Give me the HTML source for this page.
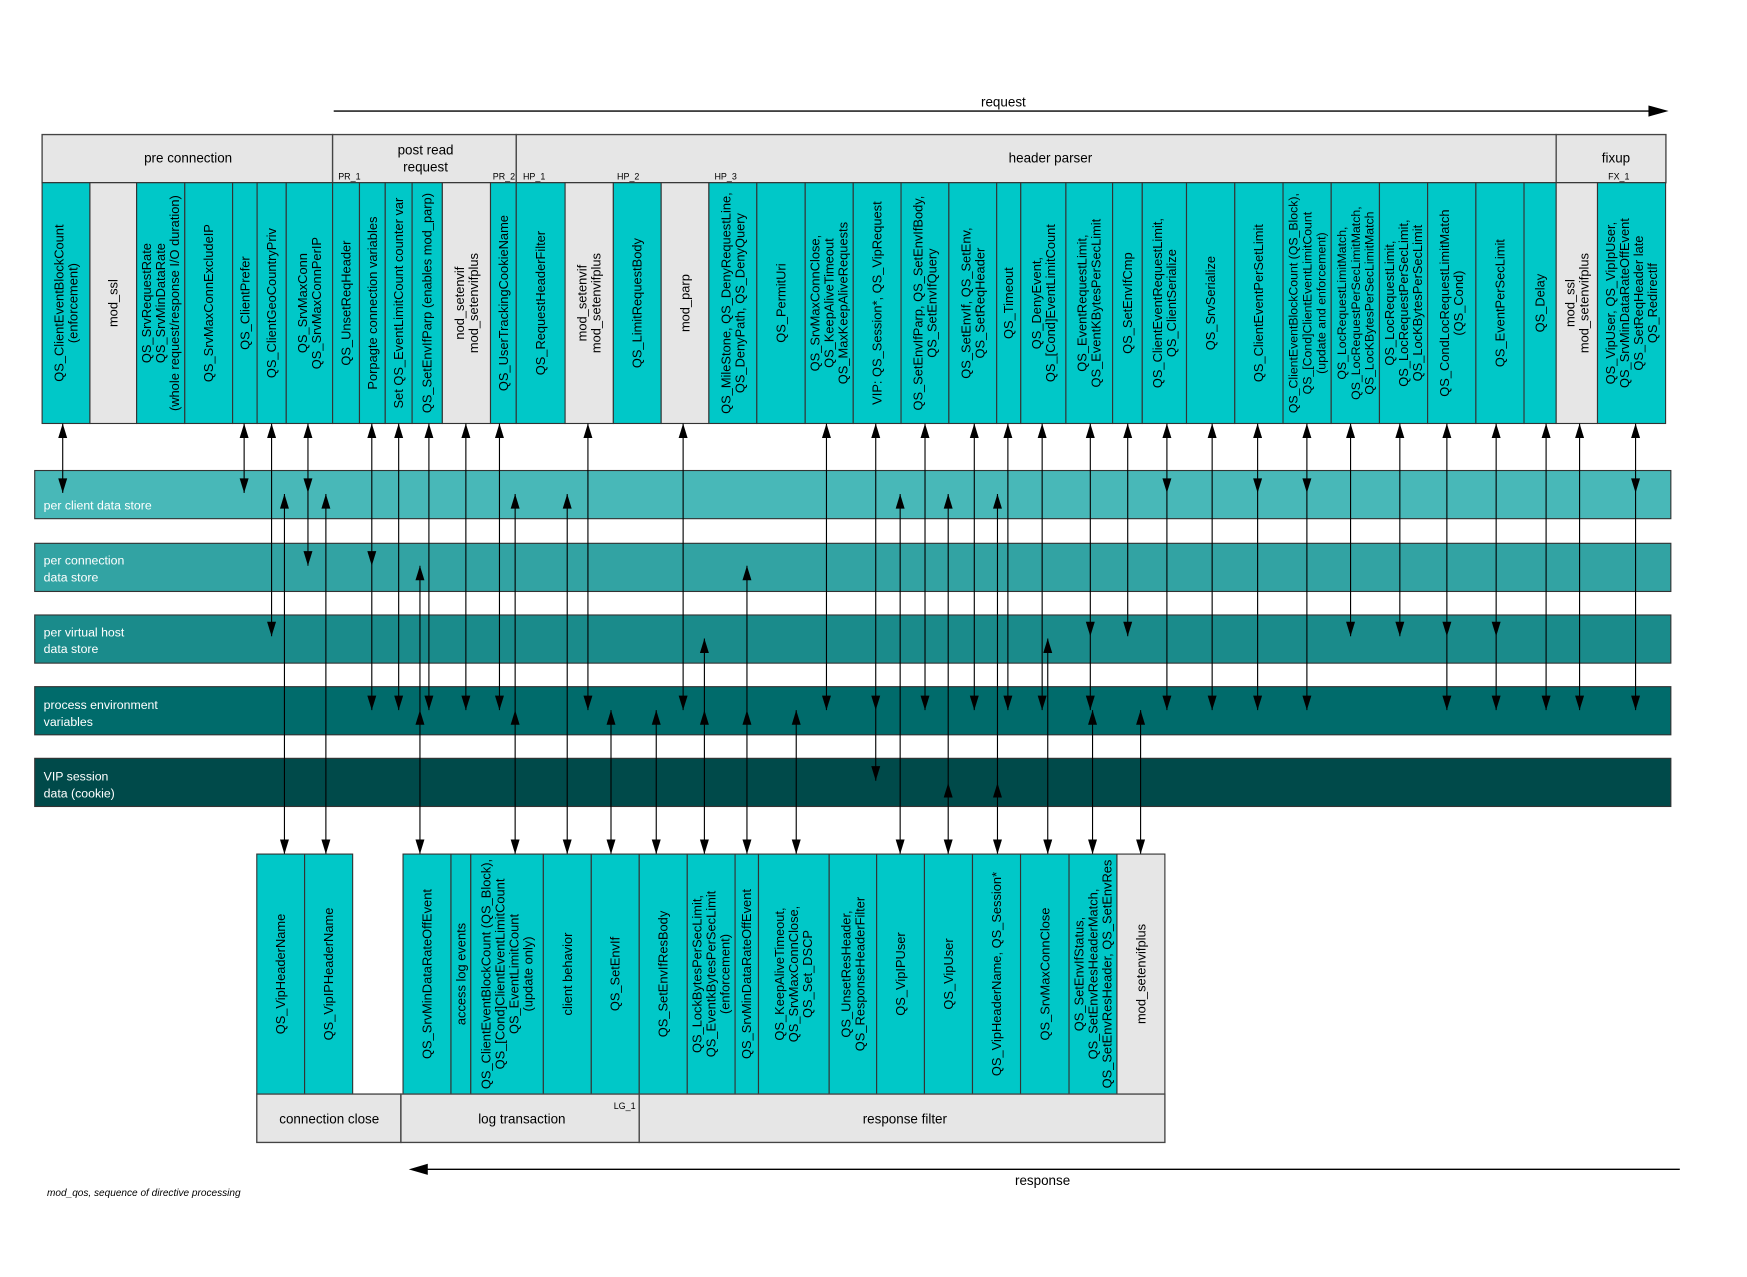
<!DOCTYPE html>
<html><head><meta charset="utf-8"><style>
html,body{margin:0;padding:0;background:#fff;}
svg{display:block;}
text{font-family:"Liberation Sans",sans-serif;}
.c{font-size:11.5px;fill:#000;}
.h{font-size:12px;fill:#000;}
.s{font-size:8px;fill:#000;}
.b{font-size:11px;fill:#fff;}
</style></head><body>
<svg width="1747" height="1277" viewBox="0 0 1560 1140" xmlns="http://www.w3.org/2000/svg">
<defs>
<path id="dn" d="M-4,-13 L4,-13 L0,0Z" fill="#000"/>
<path id="up" d="M-4,13 L4,13 L0,0Z" fill="#000"/>
</defs>
<rect width="1560" height="1140" fill="#fff"/>

<!-- request arrow -->
<line x1="298" y1="99" x2="1475" y2="99" stroke="#000" stroke-width="1.2"/>
<path d="M1472,94 L1490,99 L1472,104Z" fill="#000"/>
<text class="h" x="896" y="95" text-anchor="middle">request</text>

<!-- header boxes -->
<g stroke="#444" stroke-width="1.2" fill="#e6e6e6">
<rect x="37.6" y="120" width="259.4" height="43"/>
<rect x="297" y="120" width="164" height="43"/>
<rect x="461" y="120" width="928.6" height="43"/>
<rect x="1389.6" y="120" width="98" height="43"/>
</g>
<text class="h" x="168" y="145" text-anchor="middle">pre connection</text>
<text class="h" x="380" y="138" text-anchor="middle">post read</text>
<text class="h" x="380" y="153" text-anchor="middle">request</text>
<text class="h" x="938" y="145" text-anchor="middle">header parser</text>
<text class="h" x="1443" y="145" text-anchor="middle">fixup</text>
<text class="s" x="302" y="160">PR_1</text>
<text class="s" x="440" y="160">PR_2</text>
<text class="s" x="467" y="160">HP_1</text>
<text class="s" x="551" y="160">HP_2</text>
<text class="s" x="638" y="160">HP_3</text>
<text class="s" x="1436" y="160">FX_1</text>

<!-- top columns -->
<g stroke="#333" stroke-width="1">
<rect x="37.6" y="163" width="42.7" height="215" fill="#00c8c8"/>
<rect x="80.3" y="163" width="41.7" height="215" fill="#e6e6e6"/>
<rect x="122" y="163" width="43" height="215" fill="#00c8c8"/>
<rect x="165" y="163" width="42.7" height="215" fill="#00c8c8"/>
<rect x="207.7" y="163" width="21.9" height="215" fill="#00c8c8"/>
<rect x="229.6" y="163" width="26" height="215" fill="#00c8c8"/>
<rect x="255.6" y="163" width="41.4" height="215" fill="#00c8c8"/>
<rect x="297" y="163" width="24" height="215" fill="#00c8c8"/>
<rect x="321" y="163" width="23" height="215" fill="#00c8c8"/>
<rect x="344" y="163" width="24" height="215" fill="#00c8c8"/>
<rect x="368" y="163" width="27" height="215" fill="#00c8c8"/>
<rect x="395" y="163" width="43" height="215" fill="#e6e6e6"/>
<rect x="438" y="163" width="23" height="215" fill="#00c8c8"/>
<rect x="461" y="163" width="43.6" height="215" fill="#00c8c8"/>
<rect x="504.6" y="163" width="43.1" height="215" fill="#e6e6e6"/>
<rect x="547.7" y="163" width="42.7" height="215" fill="#00c8c8"/>
<rect x="590.4" y="163" width="42.6" height="215" fill="#e6e6e6"/>
<rect x="633" y="163" width="42.8" height="215" fill="#00c8c8"/>
<rect x="675.8" y="163" width="43.2" height="215" fill="#00c8c8"/>
<rect x="719" y="163" width="42.9" height="215" fill="#00c8c8"/>
<rect x="761.9" y="163" width="42.7" height="215" fill="#00c8c8"/>
<rect x="804.6" y="163" width="42.7" height="215" fill="#00c8c8"/>
<rect x="847.3" y="163" width="42.7" height="215" fill="#00c8c8"/>
<rect x="890" y="163" width="21.5" height="215" fill="#00c8c8"/>
<rect x="911.5" y="163" width="40.3" height="215" fill="#00c8c8"/>
<rect x="951.8" y="163" width="41.7" height="215" fill="#00c8c8"/>
<rect x="993.5" y="163" width="26.5" height="215" fill="#00c8c8"/>
<rect x="1020" y="163" width="39.5" height="215" fill="#00c8c8"/>
<rect x="1059.5" y="163" width="43.1" height="215" fill="#00c8c8"/>
<rect x="1102.6" y="163" width="43.1" height="215" fill="#00c8c8"/>
<rect x="1145.7" y="163" width="43" height="215" fill="#00c8c8"/>
<rect x="1188.7" y="163" width="43.1" height="215" fill="#00c8c8"/>
<rect x="1231.8" y="163" width="43" height="215" fill="#00c8c8"/>
<rect x="1274.8" y="163" width="43.1" height="215" fill="#00c8c8"/>
<rect x="1317.9" y="163" width="43" height="215" fill="#00c8c8"/>
<rect x="1360.9" y="163" width="28.7" height="215" fill="#00c8c8"/>
<rect x="1389.6" y="163" width="36.9" height="215" fill="#e6e6e6"/>
<rect x="1426.5" y="163" width="60.8" height="215" fill="#00c8c8"/>
</g>

<g class="c" text-anchor="middle" font-size="11.5">
<text transform="translate(59,270.5) rotate(-90)"><tspan x="0" y="-2.2">QS_ClientEventBlockCount</tspan><tspan x="0" y="10.3">(enforcement)</tspan></text>
<text transform="translate(101,270.5) rotate(-90)"><tspan x="0" y="4">mod_ssl</tspan></text>
<text transform="translate(143.5,270.5) rotate(-90)"><tspan x="0" y="-8.5">QS_SrvRequestRate</tspan><tspan x="0" y="4">QS_SrvMinDataRate</tspan><tspan x="0" y="16.5">(whole request/response I/O duration)</tspan></text>
<text transform="translate(186.4,270.5) rotate(-90)"><tspan x="0" y="4">QS_SrvMaxConnExcludeIP</tspan></text>
<text transform="translate(218.6,270.5) rotate(-90)"><tspan x="0" y="4">QS_ClientPrefer</tspan></text>
<text transform="translate(242.6,270.5) rotate(-90)"><tspan x="0" y="4">QS_ClientGeoCountryPriv</tspan></text>
<text transform="translate(276.3,270.5) rotate(-90)"><tspan x="0" y="-2.2">QS_SrvMaxConn</tspan><tspan x="0" y="10.3">QS_SrvMaxConnPerIP</tspan></text>
<text transform="translate(309,270.5) rotate(-90)"><tspan x="0" y="4">QS_UnsetReqHeader</tspan></text>
<text transform="translate(332.5,270.5) rotate(-90)"><tspan x="0" y="4">Porpagte connection variables</tspan></text>
<text transform="translate(356,270.5) rotate(-90)"><tspan x="0" y="4">Set QS_EventLimitCount counter var</tspan></text>
<text transform="translate(381.5,270.5) rotate(-90)"><tspan x="0" y="4">QS_SetEnvIfParp (enables mod_parp)</tspan></text>
<text transform="translate(416.5,270.5) rotate(-90)"><tspan x="0" y="-2.2">nod_setenvif</tspan><tspan x="0" y="10.3">mod_setenvifplus</tspan></text>
<text transform="translate(449.5,270.5) rotate(-90)"><tspan x="0" y="4">QS_UserTrackingCookieName</tspan></text>
<text transform="translate(482.8,270.5) rotate(-90)"><tspan x="0" y="4">QS_RequestHeaderFilter</tspan></text>
<text transform="translate(526,270.5) rotate(-90)"><tspan x="0" y="-2.2">mod_setenvif</tspan><tspan x="0" y="10.3">mod_setenvifplus</tspan></text>
<text transform="translate(569,270.5) rotate(-90)"><tspan x="0" y="4">QS_LimitRequestBody</tspan></text>
<text transform="translate(611.7,270.5) rotate(-90)"><tspan x="0" y="4">mod_parp</tspan></text>
<text transform="translate(654.4,270.5) rotate(-90)"><tspan x="0" y="-2.2">QS_MileStone, QS_DenyRequestLine,</tspan><tspan x="0" y="10.3">QS_DenyPath, QS_DenyQuery</tspan></text>
<text transform="translate(697.4,270.5) rotate(-90)"><tspan x="0" y="4">QS_PermitUri</tspan></text>
<text transform="translate(740.4,270.5) rotate(-90)"><tspan x="0" y="-8.5">QS_SrvMaxConnClose,</tspan><tspan x="0" y="4">QS_KeepAliveTimeout</tspan><tspan x="0" y="16.5">QS_MaxKeepAliveRequests</tspan></text>
<text transform="translate(783.2,270.5) rotate(-90)"><tspan x="0" y="4">VIP: QS_Session*, QS_VipRequest</tspan></text>
<text transform="translate(826,270.5) rotate(-90)"><tspan x="0" y="-2.2">QS_SetEnvIfParp, QS_SetEnvIfBody,</tspan><tspan x="0" y="10.3">QS_SetEnvIfQuery</tspan></text>
<text transform="translate(868.6,270.5) rotate(-90)"><tspan x="0" y="-2.2">QS_SetEnvIf, QS_SetEnv,</tspan><tspan x="0" y="10.3">QS_SetReqHeader</tspan></text>
<text transform="translate(900.7,270.5) rotate(-90)"><tspan x="0" y="4">QS_Timeout</tspan></text>
<text transform="translate(931.6,270.5) rotate(-90)"><tspan x="0" y="-2.2">QS_DenyEvent,</tspan><tspan x="0" y="10.3">QS_[Cond]EventLimitCount</tspan></text>
<text transform="translate(972.6,270.5) rotate(-90)"><tspan x="0" y="-2.2">QS_EventRequestLimit,</tspan><tspan x="0" y="10.3">QS_EventKBytesPerSecLimit</tspan></text>
<text transform="translate(1006.7,270.5) rotate(-90)"><tspan x="0" y="4">QS_SetEnvIfCmp</tspan></text>
<text transform="translate(1039.7,270.5) rotate(-90)"><tspan x="0" y="-2.2">QS_ClientEventRequestLimit,</tspan><tspan x="0" y="10.3">QS_ClientSerialize</tspan></text>
<text transform="translate(1081,270.5) rotate(-90)"><tspan x="0" y="4">QS_SrvSerialize</tspan></text>
<text transform="translate(1124,270.5) rotate(-90)"><tspan x="0" y="4">QS_ClientEventPerSetLimit</tspan></text>
<text transform="translate(1167.2,270.5) rotate(-90)" font-size="11"><tspan x="0" y="-8.5">QS_ClientEventBlockCount (QS_Block),</tspan><tspan x="0" y="4">QS_[Cond]ClientEventLimitCount</tspan><tspan x="0" y="16.5">(update and enforcement)</tspan></text>
<text transform="translate(1210.2,270.5) rotate(-90)" font-size="11"><tspan x="0" y="-8.5">QS_LocRequestLimitMatch,</tspan><tspan x="0" y="4">QS_LocRequestPerSecLimitMatch,</tspan><tspan x="0" y="16.5">QS_LocKBytesPerSecLimitMatch</tspan></text>
<text transform="translate(1253.3,270.5) rotate(-90)"><tspan x="0" y="-8.5">QS_LocRequestLimit,</tspan><tspan x="0" y="4">QS_LocRequestPerSecLimit,</tspan><tspan x="0" y="16.5">QS_LocKBytesPerSecLimit</tspan></text>
<text transform="translate(1296.3,270.5) rotate(-90)"><tspan x="0" y="-2.2">QS_CondLocRequestLimitMatch</tspan><tspan x="0" y="10.3">(QS_Cond)</tspan></text>
<text transform="translate(1339.4,270.5) rotate(-90)"><tspan x="0" y="4">QS_EventPerSecLimit</tspan></text>
<text transform="translate(1375.2,270.5) rotate(-90)"><tspan x="0" y="4">QS_Delay</tspan></text>
<text transform="translate(1408,270.5) rotate(-90)"><tspan x="0" y="-2.2">mod_ssl</tspan><tspan x="0" y="10.3">mod_setenvifplus</tspan></text>
<text transform="translate(1457,270.5) rotate(-90)"><tspan x="0" y="-14.7">QS_VipUser, QS_VipIpUser,</tspan><tspan x="0" y="-2.2">QS_SrvMinDataRateOffEvent</tspan><tspan x="0" y="10.3">QS_SetReqHeader late</tspan><tspan x="0" y="22.8">QS_Redirectlf</tspan></text>
</g>

<!-- bands -->
<g stroke="#333" stroke-width="1">
<rect x="31" y="420" width="1461" height="43" fill="#48b8b8"/>
<rect x="31" y="485" width="1461" height="43" fill="#32a3a3"/>
<rect x="31" y="549" width="1461" height="43" fill="#1a8b8b"/>
<rect x="31" y="613" width="1461" height="43" fill="#006b6b"/>
<rect x="31" y="677" width="1461" height="43" fill="#004a4a"/>
</g>
<text class="b" x="39" y="455">per client data store</text>
<text class="b" x="39" y="504">per connection</text>
<text class="b" x="39" y="519">data store</text>
<text class="b" x="39" y="568">per virtual host</text>
<text class="b" x="39" y="583">data store</text>
<text class="b" x="39" y="633">process environment</text>
<text class="b" x="39" y="648">variables</text>
<text class="b" x="39" y="697">VIP session</text>
<text class="b" x="39" y="712">data (cookie)</text>

<!-- top arrows -->
<g stroke="#000" stroke-width="1">
<line x1="56" y1="378" x2="56" y2="440"/>
<line x1="218" y1="378" x2="218" y2="440"/>
<line x1="242.5" y1="378" x2="242.5" y2="568"/>
<line x1="275" y1="378" x2="275" y2="505"/>
<line x1="332" y1="378" x2="332" y2="634"/>
<line x1="356" y1="378" x2="356" y2="634"/>
<line x1="383" y1="378" x2="383" y2="634"/>
<line x1="416" y1="378" x2="416" y2="634"/>
<line x1="446" y1="378" x2="446" y2="634"/>
<line x1="525" y1="378" x2="525" y2="634"/>
<line x1="610" y1="378" x2="610" y2="634"/>
<line x1="738" y1="378" x2="738" y2="634"/>
<line x1="782" y1="378" x2="782" y2="697"/>
<line x1="826" y1="378" x2="826" y2="634"/>
<line x1="870" y1="378" x2="870" y2="634"/>
<line x1="900" y1="378" x2="900" y2="634"/>
<line x1="930.6" y1="378" x2="930.6" y2="634"/>
<line x1="973.6" y1="378" x2="973.6" y2="634"/>
<line x1="1007" y1="378" x2="1007" y2="568"/>
<line x1="1042" y1="378" x2="1042" y2="634"/>
<line x1="1082.4" y1="378" x2="1082.4" y2="634"/>
<line x1="1123" y1="378" x2="1123" y2="634"/>
<line x1="1167" y1="378" x2="1167" y2="634"/>
<line x1="1206" y1="378" x2="1206" y2="568"/>
<line x1="1250" y1="378" x2="1250" y2="568"/>
<line x1="1292" y1="378" x2="1292" y2="634"/>
<line x1="1336" y1="378" x2="1336" y2="634"/>
<line x1="1380.6" y1="378" x2="1380.6" y2="634"/>
<line x1="1410.5" y1="378" x2="1410.5" y2="634"/>
<line x1="1460.5" y1="378" x2="1460.5" y2="634"/>
</g>
<g>
<use href="#up" x="56" y="378"/><use href="#dn" x="56" y="440"/>
<use href="#up" x="218" y="378"/><use href="#dn" x="218" y="440"/>
<use href="#up" x="242.5" y="378"/><use href="#dn" x="242.5" y="568"/>
<use href="#up" x="275" y="378"/><use href="#dn" x="275" y="440"/><use href="#dn" x="275" y="505"/>
<use href="#up" x="332" y="378"/><use href="#dn" x="332" y="505"/><use href="#dn" x="332" y="634"/>
<use href="#up" x="356" y="378"/><use href="#dn" x="356" y="634"/>
<use href="#up" x="383" y="378"/><use href="#dn" x="383" y="634"/>
<use href="#up" x="416" y="378"/><use href="#dn" x="416" y="634"/>
<use href="#up" x="446" y="378"/><use href="#dn" x="446" y="634"/>
<use href="#up" x="525" y="378"/><use href="#dn" x="525" y="634"/>
<use href="#up" x="610" y="378"/><use href="#dn" x="610" y="634"/>
<use href="#up" x="738" y="378"/><use href="#dn" x="738" y="634"/>
<use href="#up" x="782" y="378"/><use href="#dn" x="782" y="634"/><use href="#dn" x="782" y="697"/>
<use href="#up" x="826" y="378"/><use href="#dn" x="826" y="634"/>
<use href="#up" x="870" y="378"/><use href="#dn" x="870" y="634"/>
<use href="#up" x="900" y="378"/><use href="#dn" x="900" y="634"/>
<use href="#up" x="930.6" y="378"/><use href="#dn" x="930.6" y="634"/>
<use href="#up" x="973.6" y="378"/><use href="#dn" x="973.6" y="568"/><use href="#dn" x="973.6" y="634"/>
<use href="#up" x="1007" y="378"/><use href="#dn" x="1007" y="568"/>
<use href="#up" x="1042" y="378"/><use href="#dn" x="1042" y="440"/><use href="#dn" x="1042" y="634"/>
<use href="#up" x="1082.4" y="378"/><use href="#dn" x="1082.4" y="634"/>
<use href="#up" x="1123" y="378"/><use href="#dn" x="1123" y="440"/><use href="#dn" x="1123" y="634"/>
<use href="#up" x="1167" y="378"/><use href="#dn" x="1167" y="440"/><use href="#dn" x="1167" y="634"/>
<use href="#up" x="1206" y="378"/><use href="#dn" x="1206" y="568"/>
<use href="#up" x="1250" y="378"/><use href="#dn" x="1250" y="568"/>
<use href="#up" x="1292" y="378"/><use href="#dn" x="1292" y="568"/><use href="#dn" x="1292" y="634"/>
<use href="#up" x="1336" y="378"/><use href="#dn" x="1336" y="568"/><use href="#dn" x="1336" y="634"/>
<use href="#up" x="1380.6" y="378"/><use href="#dn" x="1380.6" y="634"/>
<use href="#up" x="1410.5" y="378"/><use href="#dn" x="1410.5" y="634"/>
<use href="#up" x="1460.5" y="378"/><use href="#dn" x="1460.5" y="440"/><use href="#dn" x="1460.5" y="634"/>
</g>

<!-- bottom arrows -->
<g stroke="#000" stroke-width="1">
<line x1="254" y1="441" x2="254" y2="762.5"/>
<line x1="291" y1="441" x2="291" y2="762.5"/>
<line x1="375" y1="505" x2="375" y2="762.5"/>
<line x1="460" y1="441" x2="460" y2="762.5"/>
<line x1="506.5" y1="441" x2="506.5" y2="762.5"/>
<line x1="545.6" y1="634" x2="545.6" y2="762.5"/>
<line x1="586" y1="634" x2="586" y2="762.5"/>
<line x1="629" y1="570" x2="629" y2="762.5"/>
<line x1="667" y1="505" x2="667" y2="762.5"/>
<line x1="711" y1="634" x2="711" y2="762.5"/>
<line x1="803.8" y1="441" x2="803.8" y2="762.5"/>
<line x1="846.7" y1="441" x2="846.7" y2="762.5"/>
<line x1="890.7" y1="441" x2="890.7" y2="762.5"/>
<line x1="935.6" y1="570" x2="935.6" y2="762.5"/>
<line x1="975.6" y1="634" x2="975.6" y2="762.5"/>
<line x1="1018.5" y1="634" x2="1018.5" y2="762.5"/>
</g>
<g>
<use href="#dn" x="254" y="762.5"/><use href="#up" x="254" y="441"/>
<use href="#dn" x="291" y="762.5"/><use href="#up" x="291" y="441"/>
<use href="#dn" x="375" y="762.5"/><use href="#up" x="375" y="505"/><use href="#up" x="375" y="634"/>
<use href="#dn" x="460" y="762.5"/><use href="#up" x="460" y="441"/><use href="#up" x="460" y="634"/>
<use href="#dn" x="506.5" y="762.5"/><use href="#up" x="506.5" y="441"/>
<use href="#dn" x="545.6" y="762.5"/><use href="#up" x="545.6" y="634"/>
<use href="#dn" x="586" y="762.5"/><use href="#up" x="586" y="634"/>
<use href="#dn" x="629" y="762.5"/><use href="#up" x="629" y="570"/><use href="#up" x="629" y="634"/>
<use href="#dn" x="667" y="762.5"/><use href="#up" x="667" y="505"/><use href="#up" x="667" y="634"/>
<use href="#dn" x="711" y="762.5"/><use href="#up" x="711" y="634"/>
<use href="#dn" x="803.8" y="762.5"/><use href="#up" x="803.8" y="441"/>
<use href="#dn" x="846.7" y="762.5"/><use href="#up" x="846.7" y="441"/><use href="#up" x="846.7" y="699"/>
<use href="#dn" x="890.7" y="762.5"/><use href="#up" x="890.7" y="441"/><use href="#up" x="890.7" y="699"/>
<use href="#dn" x="935.6" y="762.5"/><use href="#up" x="935.6" y="570"/>
<use href="#dn" x="975.6" y="762.5"/><use href="#up" x="975.6" y="634"/>
<use href="#dn" x="1018.5" y="762.5"/><use href="#up" x="1018.5" y="634"/>
</g>

<!-- bottom columns -->
<g stroke="#333" stroke-width="1">
<rect x="229.3" y="762.5" width="42.7" height="214.3" fill="#00c8c8"/>
<rect x="272" y="762.5" width="42.9" height="214.3" fill="#00c8c8"/>
<rect x="359.9" y="762.5" width="42.8" height="214.3" fill="#00c8c8"/>
<rect x="402.7" y="762.5" width="17.7" height="214.3" fill="#00c8c8"/>
<rect x="420.4" y="762.5" width="64.8" height="214.3" fill="#00c8c8"/>
<rect x="485.2" y="762.5" width="42.8" height="214.3" fill="#00c8c8"/>
<rect x="528" y="762.5" width="42.8" height="214.3" fill="#00c8c8"/>
<rect x="570.8" y="762.5" width="42.9" height="214.3" fill="#00c8c8"/>
<rect x="613.7" y="762.5" width="42.7" height="214.3" fill="#00c8c8"/>
<rect x="656.4" y="762.5" width="20.9" height="214.3" fill="#00c8c8"/>
<rect x="677.3" y="762.5" width="63.1" height="214.3" fill="#00c8c8"/>
<rect x="740.4" y="762.5" width="42.4" height="214.3" fill="#00c8c8"/>
<rect x="782.8" y="762.5" width="42.7" height="214.3" fill="#00c8c8"/>
<rect x="825.5" y="762.5" width="42.9" height="214.3" fill="#00c8c8"/>
<rect x="868.4" y="762.5" width="42.9" height="214.3" fill="#00c8c8"/>
<rect x="911.3" y="762.5" width="43.3" height="214.3" fill="#00c8c8"/>
<rect x="954.6" y="762.5" width="42.8" height="214.3" fill="#00c8c8"/>
<rect x="997.4" y="762.5" width="42.8" height="214.3" fill="#e6e6e6"/>
</g>
<g class="c" text-anchor="middle" font-size="11.5">
<text transform="translate(250.6,869.6) rotate(-90)"><tspan x="0" y="4">QS_VipHeaderName</tspan></text>
<text transform="translate(293.5,869.6) rotate(-90)"><tspan x="0" y="4">QS_VipIPHeaderName</tspan></text>
<text transform="translate(381.3,869.6) rotate(-90)"><tspan x="0" y="4">QS_SrvMinDataRateOffEvent</tspan></text>
<text transform="translate(411.5,869.6) rotate(-90)"><tspan x="0" y="4">access log events</tspan></text>
<text transform="translate(452.8,869.6) rotate(-90)"><tspan x="0" y="-14.7">QS_ClientEventBlockCount (QS_Block),</tspan><tspan x="0" y="-2.2">QS_[Cond]ClientEventLimitCount</tspan><tspan x="0" y="10.3">QS_EventLimitCount</tspan><tspan x="0" y="22.8">(update only)</tspan></text>
<text transform="translate(506.6,869.6) rotate(-90)"><tspan x="0" y="4">client behavior</tspan></text>
<text transform="translate(549.4,869.6) rotate(-90)"><tspan x="0" y="4">QS_SetEnvIf</tspan></text>
<text transform="translate(592.2,869.6) rotate(-90)"><tspan x="0" y="4">QS_SetEnvIfResBody</tspan></text>
<text transform="translate(635,869.6) rotate(-90)"><tspan x="0" y="-8.5">QS_LockBytesPerSecLimit,</tspan><tspan x="0" y="4">QS_EventkBytesPerSecLimit</tspan><tspan x="0" y="16.5">(enforcement)</tspan></text>
<text transform="translate(666.8,869.6) rotate(-90)"><tspan x="0" y="4">QS_SrvMinDataRateOffEvent</tspan></text>
<text transform="translate(708.8,869.6) rotate(-90)"><tspan x="0" y="-8.5">QS_KeepAliveTimeout,</tspan><tspan x="0" y="4">QS_SrvMaxConnClose,</tspan><tspan x="0" y="16.5">QS_Set_DSCP</tspan></text>
<text transform="translate(761.6,869.6) rotate(-90)"><tspan x="0" y="-2.2">QS_UnsetResHeader,</tspan><tspan x="0" y="10.3">QS_ResponseHeaderFilter</tspan></text>
<text transform="translate(804.1,869.6) rotate(-90)"><tspan x="0" y="4">QS_VipIPUser</tspan></text>
<text transform="translate(847,869.6) rotate(-90)"><tspan x="0" y="4">QS_VipUser</tspan></text>
<text transform="translate(889.8,869.6) rotate(-90)"><tspan x="0" y="4">QS_VipHeaderName, QS_Session*</tspan></text>
<text transform="translate(933,869.6) rotate(-90)"><tspan x="0" y="4">QS_SrvMaxConnClose</tspan></text>
<text transform="translate(976,869.6) rotate(-90)"><tspan x="0" y="-8.5">QS_SetEnvIfStatus,</tspan><tspan x="0" y="4">QS_SetEnvResHeaderMatch,</tspan><tspan x="0" y="16.5">QS_SetEnvResHeader, QS_SetEnvRes</tspan></text>
<text transform="translate(1018.8,869.6) rotate(-90)"><tspan x="0" y="4">mod_setenvifplus</tspan></text>
</g>

<!-- footer boxes -->
<g stroke="#444" stroke-width="1.2" fill="#e6e6e6">
<rect x="229.3" y="976.8" width="128.7" height="43.2"/>
<rect x="358" y="976.8" width="212.8" height="43.2"/>
<rect x="570.8" y="976.8" width="469.4" height="43.2"/>
</g>
<text class="h" x="294" y="1003" text-anchor="middle">connection close</text>
<text class="h" x="466" y="1003" text-anchor="middle">log transaction</text>
<text class="h" x="808" y="1003" text-anchor="middle">response filter</text>
<text class="s" x="548" y="990">LG_1</text>

<!-- response arrow -->
<line x1="380" y1="1044" x2="1500" y2="1044" stroke="#000" stroke-width="1.2"/>
<path d="M382,1039 L365,1044 L382,1049Z" fill="#000"/>
<text class="h" x="931" y="1058" text-anchor="middle">response</text>
<text x="42" y="1068" font-size="9" font-style="italic" fill="#000">mod_qos, sequence of directive processing</text>
</svg>
</body></html>
